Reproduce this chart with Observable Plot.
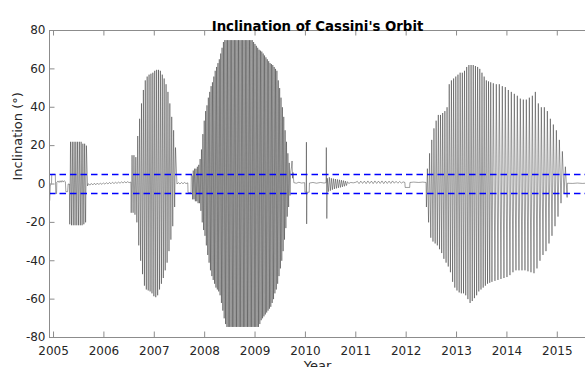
<!DOCTYPE html>
<html><head><meta charset="utf-8">
<script src="https://cdn.jsdelivr.net/npm/d3@7"></script>
<script src="https://cdn.jsdelivr.net/npm/@observablehq/plot@0.6"></script>
<style>html,body{margin:0;padding:0;background:#fff;overflow:hidden} svg{display:block}</style>
</head><body><div id="chart"></div>
<script>
// ---- tick labels / axes ----
const years = [2005,2006,2007,2008,2009,2010,2011,2012,2013,2014,2015];
const yTicks = [-80,-60,-40,-20,0,20,40,60,80];
const xDomain = [2004.92, 2015.56];
const yDomain = [-80, 80];
const band = [-5, 5];
const titleText = "Inclination of Cassini's Orbit";
const xLabel = "Year";
const yLabel = "Inclination (°)";

// ---- quiet (near-equatorial) stretches: [year, inclination] ----
const quietStart = [[2004.925,-8.5],[2004.935,-1],[2004.96,0.5],[2004.965,5],[2005.035,5],[2005.045,-5],[2005.06,-5],[2005.065,1],[2005.09,1.6],[2005.11,0.8],[2005.13,1.7],[2005.15,0.9],[2005.17,1.8],[2005.19,1],[2005.21,1.7],[2005.235,1.2],[2005.245,-4],[2005.28,-4],[2005.29,0],[2005.315,0]];
const quietA = [[2005.675,-1],[2005.69,0.2],[2005.72,-0.6],[2005.75,0.3],[2005.78,-0.5],[2005.81,0.4],[2005.84,-0.4],[2005.87,0.5],[2005.9,-0.3],[2005.93,0.5],[2005.96,-0.2],[2005.99,0.6],[2006.02,-0.1],[2006.05,0.7],[2006.08,0],[2006.11,0.8],[2006.14,0.1],[2006.17,0.9],[2006.2,0.2],[2006.23,0.9],[2006.26,0.3],[2006.29,1],[2006.32,0.4],[2006.35,1.1],[2006.38,0.5],[2006.41,1.2],[2006.44,0.6],[2006.47,1.2],[2006.5,0.7],[2006.535,1]];
const quietB = [[2007.45,0],[2007.48,0.7],[2007.51,0],[2007.54,0.8],[2007.57,0.1],[2007.6,0.8],[2007.63,0.2],[2007.665,0.6],[2007.67,-4.5],[2007.73,-4.5],[2007.735,5],[2007.755,4]];
const quietC = [[2009.725,9],[2009.735,12],[2009.745,3],[2009.755,6],[2009.77,0.7],[2009.82,0.4],[2009.87,0.9],[2009.92,0.5],[2009.985,0.7],[2009.99,-4.3],[2010.015,-4.3],[2010.02,21.8],[2010.025,-20.8],[2010.03,-4.3],[2010.075,-4.3],[2010.08,0.5],[2010.15,0.8],[2010.22,0.4],[2010.3,0.8],[2010.37,0.5],[2010.41,0.7],[2010.415,19],[2010.425,-18],[2010.435,3],[2010.455,-4],[2010.475,3.5],[2010.495,-3.5],[2010.515,3],[2010.535,-3],[2010.555,2.8],[2010.575,-2.6],[2010.595,2.6],[2010.615,-2.3],[2010.635,2.4],[2010.655,-2],[2010.675,2.2],[2010.695,-1.8],[2010.715,2],[2010.735,-1.5],[2010.755,1.8],[2010.775,-1.2],[2010.795,1.5],[2010.815,-0.8],[2010.835,1.2],[2010.86,0.3],[2010.9,0.8],[2010.95,0.6],[2011.0,0.9]];
const quietD = [[2011.03,1.4],[2011.065,0.2],[2011.1,1.5],[2011.135,0.3],[2011.17,1.5],[2011.205,0.2],[2011.24,1.6],[2011.275,0.3],[2011.31,1.5],[2011.345,0.2],[2011.38,1.6],[2011.415,0.3],[2011.45,1.5],[2011.485,0.3],[2011.52,1.6],[2011.555,0.2],[2011.59,1.5],[2011.625,0.3],[2011.66,1.5],[2011.695,0.3],[2011.73,1.6],[2011.765,0.4],[2011.8,1.4],[2011.835,0.4],[2011.87,1.3],[2011.905,0.5],[2011.94,1.1],[2011.975,0.8],[2011.98,-1.8],[2012.07,-1.8],[2012.075,0.8],[2012.15,1],[2012.25,0.8],[2012.33,1],[2012.395,0.8]];
const quietEnd = [[2015.195,-7],[2015.2,0.4],[2015.3,0.3],[2015.4,0.5],[2015.5,0.3],[2015.56,0.4]];

// ---- inclined phases: span [start, end], per-orbit north / south extremes ----
const spanA = [2005.32, 2005.67];
const topsA = [22,22,22,22,22,22,22,21,21,20];
const botsA = [-21,-21.5,-21.5,-21.5,-21.5,-21.5,-21.5,-21.5,-21,-20];

const spanB = [2006.54, 2007.44];
const topsB = [15,15,14,25,34,42,49,54,56,57,57.5,58,59,59.5,59.5,59,57,55,52,48,42,35,28,19];
const botsB = [-15,-15,-16,-20,-32,-40,-47,-53,-55,-55.5,-56,-57,-58.5,-59,-58,-55,-52,-49,-45,-41,-35,-29,-22,-12];

const spanC = [2007.76, 2009.72];
const topsC = [7,8,8,9,10,13,18,26,33,38,41,45,48,51,53,56,59,61,63,65,68,71,74,
  75,75,75,75,75,75,75,75,75,75,75,75,75,75,75,75,75,75,75,75,75,
  74,73,72,71,70,69.5,69,68,67,66,65,64,63,62.5,62,61,60,59,54,50,45,40,35,28,22,16,11,6];
const botsC = [-8,-8,-9,-9,-10,-10,-14,-20,-24,-27,-32,-37,-41,-45,-48,-50,-52,-54,-55,-56,-58,-62,-66,-70,-73,
  -74.5,-74.5,-74.5,-74.5,-74.5,-74.5,-74.5,-74.5,-74.5,-74.5,-74.5,-74.5,-74.5,-74.5,-74.5,-74.5,-74.5,-74.5,-74.5,-74.5,-74.5,-74.5,-74.5,-74.5,
  -73,-71,-70,-69,-68,-67,-66,-65,-64,-62,-60,-57,-55,-52,-48,-44,-40,-35,-29,-23,-17,-12,-6];

const spanD1 = [2012.40, 2013.70];
const topsD1 = [8,16,23,29,33,36,36,37,38,40,52,54,55,56,57,58,58,59,61,62,62,62,61.5,61,60,58,56,54,53.5,53];
const botsD1 = [-12,-20,-28,-30,-31,-32,-34,-36,-39,-41,-43,-46,-51,-54,-55.5,-56.5,-57,-57,-58,-60,-62,-61,-59.5,-58,-56,-55,-54,-53,-52,-51.5];

const spanD2 = [2013.70, 2015.19];
const topsD2 = [52.5,52,52,51,50.5,49,48,47,46,44.5,44,44,45,46,48,42,40,40,38,34,31,28,23,17,9];
const botsD2 = [-51,-50.5,-50,-49.5,-49,-48.5,-47.5,-46,-45,-45,-45,-45,-45.5,-46,-46.5,-44,-40,-37,-35,-31,-27,-22,-17,-10,-5];

// each orbit: one southern extreme then one northern extreme, orbits evenly placed in their phase
function orbits(span, tops, bots) {
  const [s, e] = span, n = tops.length, P = (e - s) / n, out = [];
  for (let i = 0; i < n; i++) {
    const t0 = s + i * P;
    out.push([t0 + 0.05 * P, bots[i]], [t0 + 0.5 * P, tops[i]]);
  }
  return out;
}

const series = [
  ...quietStart, ...orbits(spanA, topsA, botsA), ...quietA,
  ...orbits(spanB, topsB, botsB), ...quietB,
  ...orbits(spanC, topsC, botsC), ...quietC, ...quietD,
  ...orbits(spanD1, topsD1, botsD1), ...orbits(spanD2, topsD2, botsD2), ...quietEnd
];

const W = 585, H = 367, mL = 49, mR = 0, mT = 30, mB = 30;
const frameW = W - mL - mR, frameH = H - mT - mB, tickLen = 5.5;
const axisColor = "#8c8c8c";

const chart = Plot.plot({
  width: W, height: H, marginLeft: mL, marginRight: mR, marginTop: mT, marginBottom: mB,
  style: {fontFamily: "DejaVu Sans", fontSize: "12px", color: "#262626", background: "#fff"},
  x: {domain: xDomain, label: null},
  y: {domain: yDomain, label: null},
  marks: [
    Plot.line(series, {x: d => d[0], y: d => d[1], stroke: "#111", strokeWidth: 0.4, clip: true}),
    Plot.ruleY(band, {y: d => d, stroke: "#0000ff", strokeWidth: 1.5, strokeDasharray: "6.5,4"}),
    Plot.ruleY([yDomain[1]], {y: d => d, stroke: axisColor}),
    Plot.ruleY([yDomain[0]], {y: d => d, stroke: axisColor}),
    Plot.ruleX([xDomain[0]], {x: d => d, stroke: axisColor}),
    Plot.tickX(years, {x: d => d, insetTop: frameH - tickLen, stroke: axisColor}),
    Plot.tickX(years, {x: d => d, insetBottom: frameH - tickLen, stroke: axisColor}),
    Plot.tickY(yTicks, {y: d => d, insetRight: frameW - tickLen, stroke: axisColor}),
    Plot.axisX({ticks: years, tickFormat: d => String(d), tickSize: 0, tickPadding: 9, label: null, fontSize: 12}),
    Plot.axisY({ticks: yTicks, tickFormat: d => String(d), tickSize: 0, tickPadding: 4, label: null, fontSize: 12}),
    Plot.text([titleText], {text: d => d, frameAnchor: "top", dy: -9, fontWeight: "bold", fontSize: 13.3, fill: "#000"}),
    Plot.text([xLabel], {text: d => d, frameAnchor: "bottom", dy: 32, fontSize: 13, fill: "#262626"}),
    Plot.text([yLabel], {text: d => d, frameAnchor: "left", rotate: -90, dx: -32, dy: -3.5, fontSize: 13, fill: "#262626"})
  ]
});
document.getElementById("chart").appendChild(chart);
</script></body></html>
